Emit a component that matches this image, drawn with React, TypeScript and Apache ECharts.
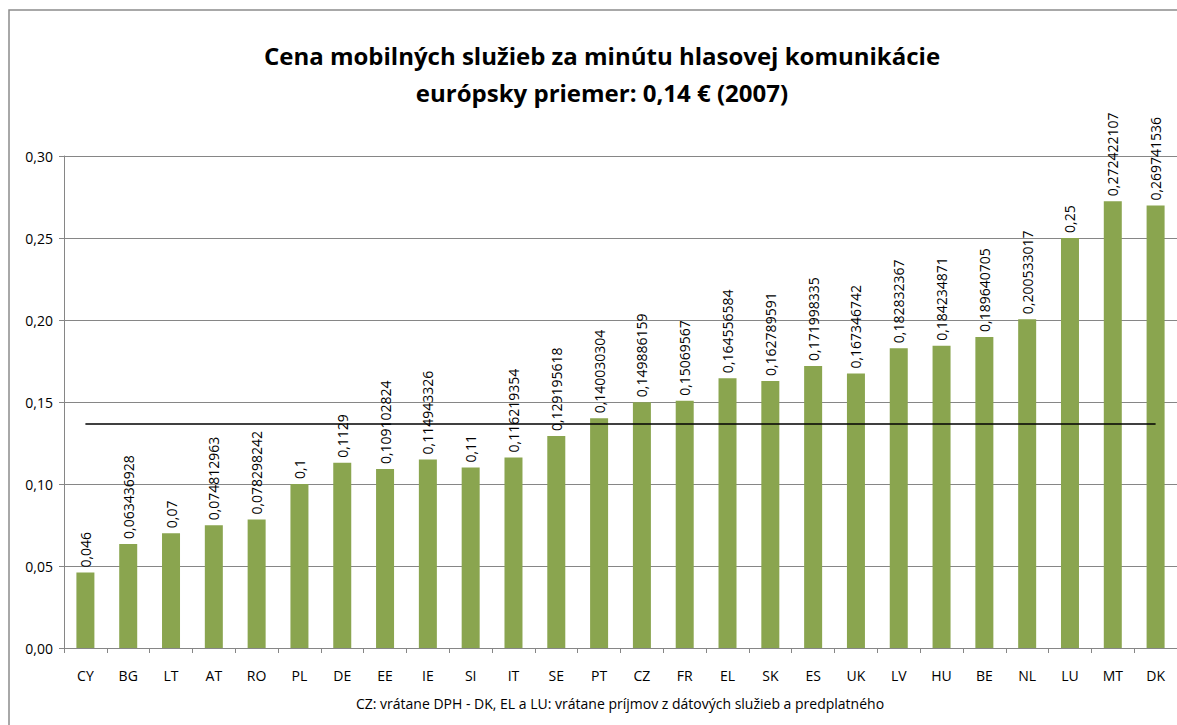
import React, { useEffect, useRef } from "react";
import * as echarts from "echarts";

const countries = ["CY","BG","LT","AT","RO","PL","DE","EE","IE","SI","IT","SE","PT","CZ","FR","EL","SK","ES","UK","LV","HU","BE","NL","LU","MT","DK"];
const prices = [0.046,0.063436928,0.07,0.074812963,0.078298242,0.1,0.1129,0.109102824,0.114943326,0.11,0.116219354,0.129195618,0.140030304,0.149886159,0.15069567,0.164556584,0.162789591,0.171998335,0.167346742,0.182832367,0.184234871,0.189640705,0.200533017,0.25,0.272422107,0.269741536];
const europeanAverage = 0.1366;
const titleLines = ["Cena mobilných služieb za minútu hlasovej komunikácie", "európsky priemer: 0,14 € (2007)"];
const footnote = "CZ: vrátane DPH - DK, EL a LU: vrátane príjmov z dátových služieb a predplatného";

const FONT = "'Open Sans', 'Liberation Sans', sans-serif";

export default function App() {
  const ref = useRef<HTMLDivElement>(null);
  useEffect(() => {
    if (!ref.current) return;
    const chart = echarts.init(ref.current, null, { renderer: "svg" });
    const lastIdx = countries.length - 1;
    chart.setOption({
      animation: false,
      backgroundColor: "#ffffff",
      textStyle: { fontFamily: FONT },
      graphic: [
        {
          type: "rect",
          shape: { x: 9, y: 10, width: 1200, height: 740 },
          style: { fill: "none", stroke: "#8c8c8c", lineWidth: 1.5 },
          silent: true,
        },
        {
          type: "text",
          x: 602,
          y: 55,
          style: { text: titleLines[0], font: `bold 24px ${FONT}`, fill: "#000", align: "center", verticalAlign: "middle" },
        },
        {
          type: "text",
          x: 602,
          y: 92,
          style: { text: titleLines[1], font: `bold 24px ${FONT}`, fill: "#000", align: "center", verticalAlign: "middle" },
        },
        {
          type: "text",
          x: 620,
          y: 703,
          style: { text: footnote, font: `14px ${FONT}`, fill: "#000", align: "center", verticalAlign: "middle" },
        },
      ],
      grid: { left: 64, top: 156, width: 1115, height: 492, containLabel: false },
      xAxis: {
        type: "category",
        data: countries,
        axisLine: { lineStyle: { color: "#868686", width: 1 } },
        axisTick: { show: true, alignWithLabel: false, length: 5, lineStyle: { color: "#868686" } },
        axisLabel: { color: "#000", fontSize: 14, fontFamily: FONT, margin: 20, interval: 0 },
      },
      yAxis: {
        type: "value",
        min: 0,
        max: 0.3,
        interval: 0.05,
        axisLine: { show: true, lineStyle: { color: "#868686", width: 1 } },
        axisTick: { show: true, length: 5, lineStyle: { color: "#868686" } },
        splitLine: { show: true, lineStyle: { color: "#868686", width: 1 } },
        axisLabel: {
          color: "#000",
          fontSize: 14,
          fontFamily: FONT,
          margin: 11,
          formatter: (v: number) => v.toFixed(2).replace(".", ","),
        },
      },
      series: [
        {
          type: "bar",
          data: prices,
          barWidth: 18,
          itemStyle: { color: "#8aa54f" },
          label: {
            show: true,
            position: "top",
            rotate: 90,
            align: "left",
            verticalAlign: "middle",
            distance: 5,
            color: "#000",
            fontSize: 14,
            fontFamily: FONT,
            textBorderWidth: 0,
            textBorderColor: "transparent",
            formatter: (p: any) => String(p.value).replace(".", ","),
          },
          markLine: {
            silent: true,
            symbol: ["none", "none"],
            animation: false,
            label: { show: false },
            lineStyle: { color: "#000", width: 1.5, type: "solid" },
            data: [
              [
                { xAxis: 0, yAxis: europeanAverage },
                { xAxis: lastIdx, yAxis: europeanAverage },
              ],
            ],
          },
        },
      ],
    });
    return () => chart.dispose();
  }, []);
  return <div ref={ref} style={{ position: "fixed", left: 0, top: 0, width: 1177, height: 725 }} />;
}
